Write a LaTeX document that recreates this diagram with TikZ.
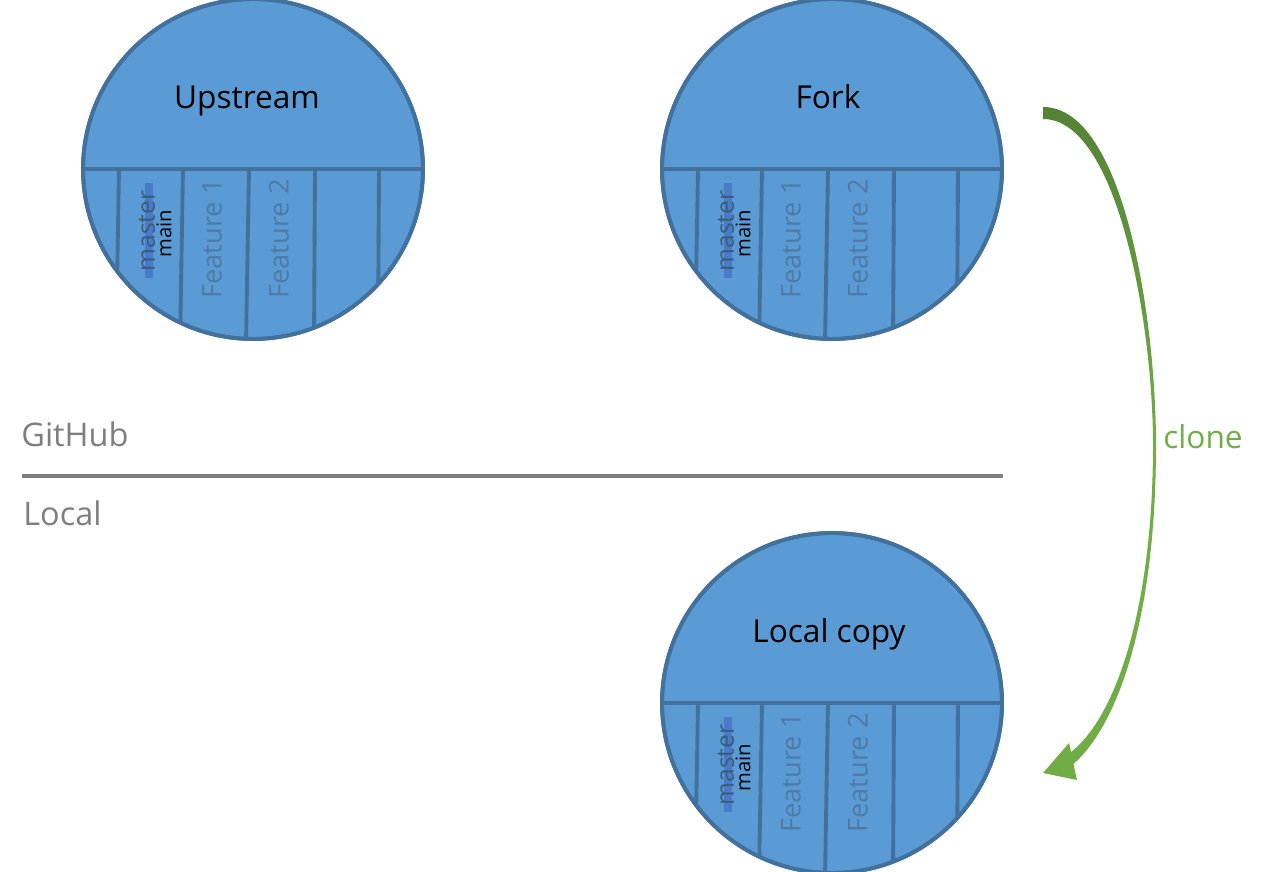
\documentclass[tikz,border=0pt]{standalone}
\usepackage{fontspec}
\setmainfont{Open Sans}
\usetikzlibrary{calc}
\definecolor{repofill}{HTML}{5B9BD5}
\definecolor{repoline}{HTML}{41719C}
\definecolor{branchtxt}{HTML}{4E7AA6}
\definecolor{strikeblue}{HTML}{4472C4}
\definecolor{sidegray}{HTML}{7F7F7F}
\definecolor{clonegreen}{HTML}{70AD47}
\definecolor{clonedark}{HTML}{548235}

\begin{document}
\begin{tikzpicture}[
  x=0.02cm, y=-0.02cm,
  repo/.style={circle, draw=repoline, fill=repofill, line width=2.2pt, minimum size=6.8cm, inner sep=0pt},
  title/.style={anchor=base, font=\fontsize{18}{20}\selectfont, text=black},
  branch/.style={rotate=90, font=\fontsize{15.5}{17}\selectfont, text=branchtxt, inner sep=0pt},
  divider/.style={draw=repoline, line width=2.2pt},
  side/.style={anchor=west, font=\fontsize{18.5}{20}\selectfont, text=sidegray, inner sep=0pt}
]
  \useasboundingbox (0,0) rectangle (1282,872);

  % Repositories
  \node[repo] (up) at (253,169) {};
  \node[repo] (fork) at (832,169) {};
  \node[repo] (loc) at (832,703) {};

  % Branch lanes
  \foreach \r in {up,fork,loc} {
    \begin{scope}
      \clip (\r) circle[radius=169];
      \draw[divider] ($(\r)+(-175,0)$) -- ($(\r)+(175,0)$);
      \foreach \dx/\sk in {-134/-3,-70/-3,-4/-3,62/-1,126/-1}
        \draw[divider] ($(\r)+(\dx,0)$) -- ($(\r)+(\dx+\sk,175)$);
    \end{scope}
    \draw[repoline, line width=2.2pt] (\r) circle[radius=170];
    \draw[strikeblue, opacity=0.75, line width=4pt] ($(\r)+(-104,14)$) -- ($(\r)+(-104,109)$);
    \node[branch, font=\fontsize{14}{15}\selectfont, text=branchtxt!75!black] (\r-ms) at ($(\r)+(-106,62)$) {master};
    \node[branch, text=black, font=\fontsize{11.5}{13}\selectfont] (\r-mn) at ($(\r)+(-89,65)$) {main};
    \node[branch] (\r-f1) at ($(\r)+(-41,70)$) {Feature 1};
    \node[branch] (\r-f2) at ($(\r)+(26,70)$) {Feature 2};
  }

  % Titles
  \node[title] (up-t) at ($(up)+(-6,-61)$) {Upstream};
  \node[title] (fork-t) at ($(fork)+(-4,-61)$) {Fork};
  \node[title] (loc-t) at ($(loc)+(-3,-61)$) {Local copy};

  % GitHub / Local split
  \node[side] (github) at (21,434) {GitHub};
  \node[side] (local) at (23,513) {Local};
  \draw[sidegray, line width=2.3pt] (22,476) -- (1003,476);

  % Clone arrow
  \coordinate (cs) at (1043,113);
  \coordinate (ce) at (1043,773);
  \shade[top color=clonedark, bottom color=clonegreen, middle color=clonegreen]
    (1043,107) .. controls (1124,107) and (1156,320) .. (1156,445)
    .. controls (1156,610) and (1121,722) .. (1073.5,764)
    -- (1077,780) -- (ce) -- (1069,743) -- (1071,752)
    .. controls (1117,716) and (1153,605) .. (1153,445)
    .. controls (1153,325) and (1118,119) .. (1043,119) -- cycle;
  \node[font=\fontsize{18}{20}\selectfont, text=clonegreen] (clone) at (1203,437) {clone};

\end{tikzpicture}
\end{document}
